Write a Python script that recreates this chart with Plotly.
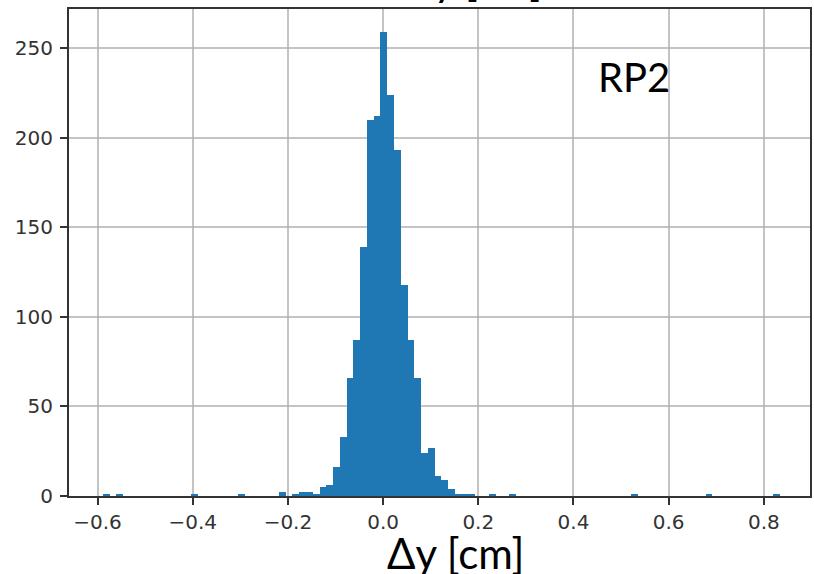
import plotly.graph_objects as go

# histogram definition (100 bins)
bin_start = -0.589
bin_width = 0.01423
n_bins = 100
nonzero_bins = [0, 2, 13, 20, 26, 28, 29, 30, 31, 32, 33, 34, 35, 36, 37, 38, 39, 40,
                41, 42, 43, 44, 45, 46, 47, 48, 49, 50, 51, 52, 53, 54, 57, 60, 78, 89, 99]
nonzero_counts = [1, 1, 1, 1, 2, 1, 2, 2, 1, 5, 6, 16, 33, 66, 87, 139, 210, 212,
                  259, 224, 193, 118, 87, 66, 24, 27, 11, 9, 4, 1, 1, 1, 1, 1, 1, 1, 1]

x_ticks = [-0.6, -0.4, -0.2, 0.0, 0.2, 0.4, 0.6, 0.8]
y_ticks = [0, 50, 100, 150, 200, 250]

counts = [0] * n_bins
for b, c in zip(nonzero_bins, nonzero_counts):
    counts[b] = c
centers = [bin_start + (i + 0.5) * bin_width for i in range(n_bins)]

fig = go.Figure()
fig.add_trace(go.Bar(x=centers, y=counts, width=bin_width,
                     marker=dict(color="#1f77b4", line=dict(width=0))))

axis_common = dict(showgrid=True, gridcolor="rgba(176,176,176,0.75)", gridwidth=1.8,
                   showline=True, linecolor="#333333", linewidth=2, mirror=True,
                   ticks="outside", ticklen=7, tickwidth=1.6, tickcolor="#333333",
                   zeroline=False, layer="above traces",
                   tickfont=dict(family="DejaVu Sans", size=20, color="#333333"))

fig.update_layout(
    width=814, height=574,
    margin=dict(l=69, r=2, t=9, b=78),
    plot_bgcolor="white", paper_bgcolor="white",
    showlegend=False, bargap=0,
    xaxis=dict(range=[-0.66, 0.897], tickvals=x_ticks,
               ticktext=[("−" if v < 0 else "") + f"{abs(v):.1f}" for v in x_ticks],
               **axis_common),
    yaxis=dict(range=[0, 272], tickvals=y_ticks, ticklabelstandoff=3, **axis_common),
    annotations=[
        dict(text="RP2", xref="paper", yref="paper", x=0.763, y=0.86,
             xanchor="center", yanchor="middle", showarrow=False,
             font=dict(family="Lato", size=40, color="black")),
        dict(text="Δy [cm]", xref="paper", yref="paper", x=0.522, y=0,
             xanchor="center", yanchor="top", yshift=-30, showarrow=False,
             font=dict(family="Lato", size=42, color="black")),
        dict(text="Δy [cm]", xref="paper", yref="paper", x=0.546, y=1,
             xanchor="center", yanchor="bottom", yshift=2, showarrow=False,
             font=dict(family="Lato", size=42, color="black")),
    ],
)

fig.write_html("out.html", config={"displayModeBar": False},
               post_script="document.body.style.margin='0';document.body.style.overflow='hidden';")
